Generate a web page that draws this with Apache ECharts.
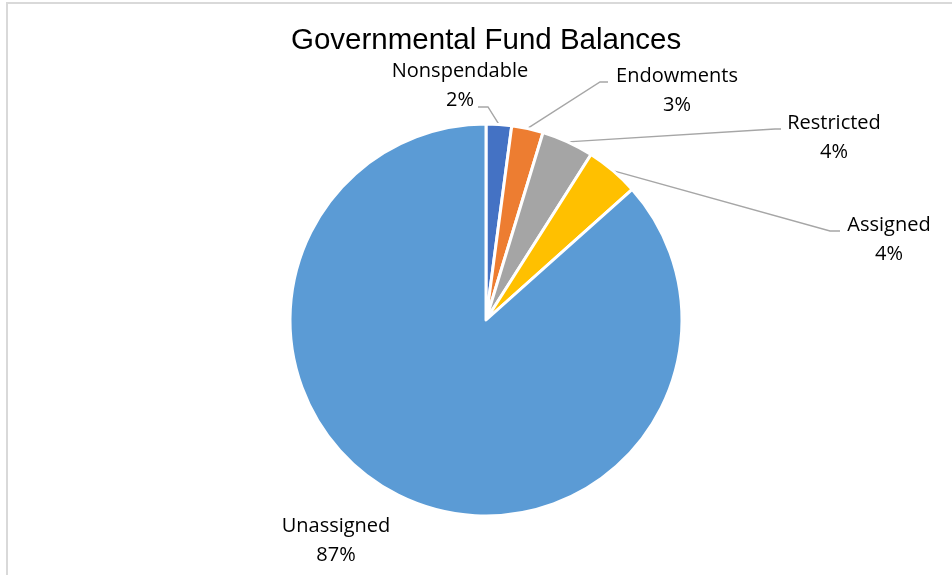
<!DOCTYPE html>
<html>
<head>
<meta charset="utf-8">
<script src="https://cdn.jsdelivr.net/npm/echarts@6/dist/echarts.min.js"></script>
<style>
html,body{margin:0;padding:0;background:#fff;}
#chart{width:952px;height:575px;}
</style>
</head>
<body>
<div id="chart"></div>
<script>
// ---- data ----
const titleText = 'Governmental Fund Balances';
const categories = ['Nonspendable', 'Endowments', 'Restricted', 'Assigned', 'Unassigned'];
const values = [2.1, 2.6, 4.3, 4.4, 86.6];
const colors = ['#4472C4', '#ED7D31', '#A5A5A5', '#FFC000', '#5B9BD5'];

// ---- label layout (positions only) ----
const labelCenters = [[460, 86], [677, 91], [834, 138], [889, 240], [336, 541]];
const leaderEnds = [
  [[488, 107], [478, 107]],
  [[600, 82], [608, 82]],
  [[775, 129], [781, 129]],
  [[830, 231], [840, 231]],
  null
];

const chart = echarts.init(document.getElementById('chart'));
const option = {
  animation: false,
  backgroundColor: '#fff',
  title: {
    text: titleText,
    left: 286,
    top: 21,
    textStyle: { fontFamily: 'Liberation Sans', fontSize: 29.5, fontWeight: 'normal', color: '#000' }
  },
  graphic: [{
    type: 'rect',
    shape: { x: 7, y: 3, width: 1000, height: 1000 },
    style: { fill: 'none', stroke: '#d9d9d9', lineWidth: 2 },
    silent: true
  }],
  series: [{
    type: 'pie',
    center: [486, 320],
    radius: [0, 196],
    startAngle: 90,
    clockwise: true,
    percentPrecision: 0,
    avoidLabelOverlap: false,
    itemStyle: { borderColor: '#fff', borderWidth: 3 },
    label: {
      show: true,
      position: 'outside',
      formatter: '{b}\n{d}%',
      fontFamily: 'Open Sans',
      fontSize: 20,
      lineHeight: 29,
      color: '#000',
      align: 'center'
    },
    labelLine: { show: true, lineStyle: { color: '#A6A6A6', width: 1.4 } },
    labelLayout: function (params) {
      const i = params.dataIndex;
      const c = labelCenters[i];
      const out = { x: c[0], y: c[1], align: 'center', verticalAlign: 'middle' };
      const e = leaderEnds[i];
      if (e && params.labelLinePoints) {
        out.labelLinePoints = [params.labelLinePoints[0], e[0], e[1]];
      }
      return out;
    },
    data: categories.map((name, i) => ({
      name: name,
      value: values[i],
      itemStyle: { color: colors[i] },
      labelLine: { show: leaderEnds[i] !== null }
    }))
  }]
};
chart.setOption(option);
</script>
</body>
</html>
